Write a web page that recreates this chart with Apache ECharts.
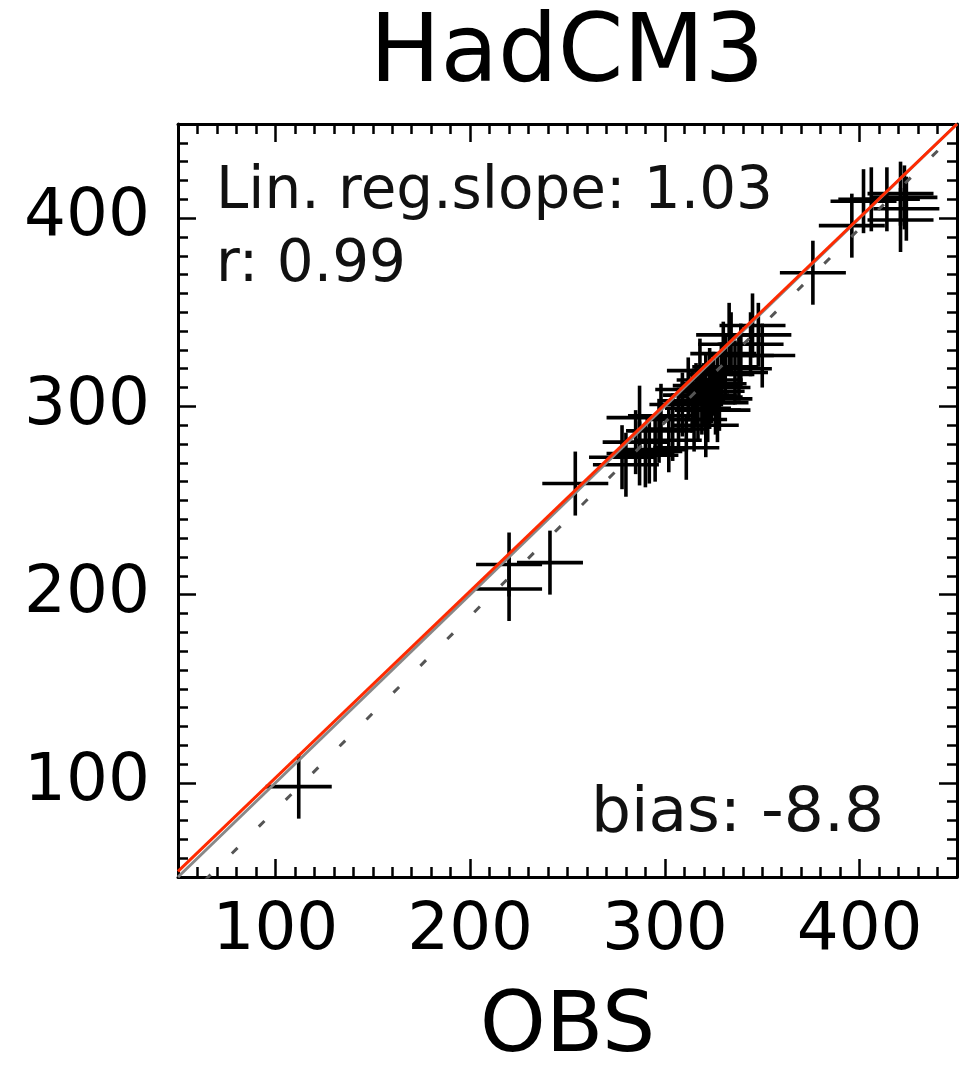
<!DOCTYPE html>
<html>
<head>
<meta charset="utf-8">
<title>HadCM3</title>
<script src="https://cdn.jsdelivr.net/npm/echarts@6/dist/echarts.min.js"></script>
<style>
  html, body { margin: 0; padding: 0; background: #fff; }
  #chart { width: 963px; height: 1065px; }
</style>
</head>
<body>
<div id="chart"></div>
<script>
// 数据: OBS (x) vs HadCM3 (y)
const obs = [112, 220, 220, 241, 254,
    278, 280, 285, 287, 290, 292, 295, 287, 298, 304, 311,
    297, 302, 307, 309, 315, 321,
    312, 314, 317, 318, 320, 321, 322, 323, 324, 326, 327, 328, 329,
    319, 325, 323, 327, 316,
    330, 331, 333, 334, 336, 338, 339, 345, 348, 350, 344,
    376, 396, 402, 406, 414, 421, 421, 423, 424];
const model = [98, 216, 203, 217, 259,
    273, 269, 281, 275, 274, 276, 277, 294, 295, 288, 278,
    287, 282, 293, 301, 293, 290,
    309, 303, 299, 319, 306, 311, 298, 314, 308, 302, 310, 304, 317,
    302, 312, 305, 298, 306,
    328, 321, 338, 333, 318, 320, 327, 343, 338, 327, 333,
    371, 396, 409, 410, 410, 413, 399, 411, 405];

const axisMin = 50;
const axisMax = 450;
const majorTicks = [100, 200, 300, 400];

const oneToOne = [[50, 50], [450, 450]];
const regLine = [[50, 34], [450, 446]];
const fitLine = [[50, 53], [450, 450]];

const slopeText = 'Lin. reg.slope: 1.03';
const rText = 'r: 0.99';
const biasText = 'bias: -8.8';

const FONT = '"DejaVu Sans", sans-serif';

document.addEventListener('DOMContentLoaded', function () {
    const chart = echarts.init(document.getElementById('chart'));

    const points = obs.map((v, i) => [v, model[i]]);

    function minorAxis(pos) {
        return {
            type: 'value', position: pos, min: axisMin, max: axisMax, interval: 10,
            axisLine: { show: true, onZero: false, lineStyle: { color: '#000', width: 3 } },
            axisTick: { show: true, inside: true, length: 10, lineStyle: { color: '#000', width: 2.5 } },
            axisLabel: { show: false },
            splitLine: { show: false }
        };
    }

    function majorAxis(pos, labels) {
        return {
            type: 'value', position: pos, min: axisMin, max: axisMax,
            axisLine: { show: false, onZero: false },
            axisTick: { show: true, inside: true, length: 18, customValues: majorTicks,
                lineStyle: { color: '#000', width: 2.5 } },
            axisLabel: { show: labels, customValues: majorTicks, fontSize: 66,
                fontFamily: FONT, color: '#000', margin: pos === 'left' ? 28 : 22 },
            splitLine: { show: false }
        };
    }

    const xMain = majorAxis('bottom', true);
    xMain.name = 'OBS';
    xMain.nameLocation = 'middle';
    xMain.nameGap = 110;
    xMain.nameTextStyle = { fontSize: 84, fontFamily: FONT, color: '#000' };

    const option = {
        animation: false,
        backgroundColor: '#fff',
        grid: { left: 178, top: 124, width: 779, height: 753, containLabel: false, outerBoundsMode: 'none' },
        xAxis: [minorAxis('bottom'), xMain, minorAxis('top'), majorAxis('top', false)],
        yAxis: [minorAxis('left'), majorAxis('left', true), minorAxis('right'), majorAxis('right', false)],
        graphic: [
            { type: 'text', x: 567, y: 57, style: { text: 'HadCM3', font: '94px ' + FONT,
                fill: '#000', textAlign: 'center', textVerticalAlign: 'middle' } },
            { type: 'text', x: 216, y: 193, style: { text: slopeText, font: '58px ' + FONT,
                fill: '#111', textAlign: 'left', textVerticalAlign: 'middle' } },
            { type: 'text', x: 216, y: 266, style: { text: rText, font: '58px ' + FONT,
                fill: '#111', textAlign: 'left', textVerticalAlign: 'middle' } },
            { type: 'text', x: 884, y: 815, style: { text: biasText, font: '63px ' + FONT,
                fill: '#111', textAlign: 'right', textVerticalAlign: 'middle' } }
        ],
        series: [
            {
                type: 'custom',
                xAxisIndex: 0, yAxisIndex: 0,
                data: points,
                renderItem: function (params, api) {
                    const c = api.coord([api.value(0), api.value(1)]);
                    const st = { stroke: '#000', lineWidth: 3.6 };
                    return {
                        type: 'group',
                        children: [
                            { type: 'line', shape: { x1: c[0] - 33, y1: c[1], x2: c[0] + 33, y2: c[1] }, style: st },
                            { type: 'line', shape: { x1: c[0], y1: c[1] - 32, x2: c[0], y2: c[1] + 32 }, style: st }
                        ]
                    };
                }
            },
            {
                type: 'line', xAxisIndex: 0, yAxisIndex: 0, data: regLine, symbol: 'none',
                lineStyle: { color: '#555', width: 3, type: [8, 30] }
            },
            {
                type: 'line', xAxisIndex: 0, yAxisIndex: 0, data: oneToOne, symbol: 'none',
                lineStyle: { color: '#888', width: 3 }
            },
            {
                type: 'line', xAxisIndex: 0, yAxisIndex: 0, data: fitLine, symbol: 'none',
                lineStyle: { color: '#ff2a00', width: 3 }
            }
        ]
    };
    chart.setOption(option);
});
</script>
</body>
</html>
